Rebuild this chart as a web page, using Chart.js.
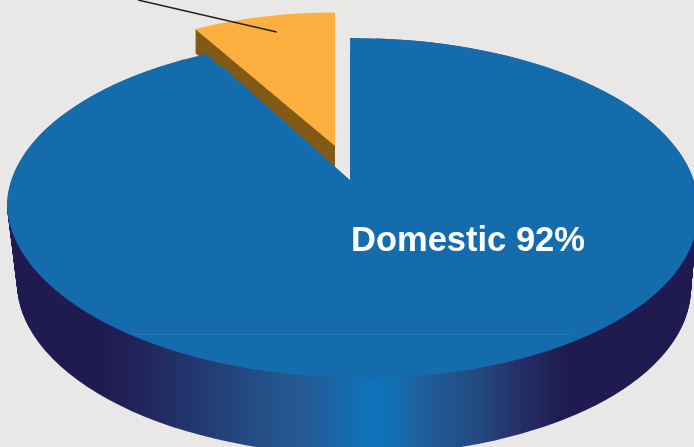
<!DOCTYPE html>
<html>
<head>
<meta charset="utf-8">
<style>
html,body{margin:0;padding:0;background:#e9e8e6;width:694px;height:447px;overflow:hidden}
canvas{display:block}
</style>
<script src="https://cdn.jsdelivr.net/npm/chart.js@4"></script>
</head>
<body>
<canvas id="c" width="694" height="447"></canvas>
<script>
const categories = ['Domestic', 'Other'];
const shares = [92, 8];
const sliceColors = ['#156cad', '#fdb03f'];
const sideColor = '#805a16';

// view of the slices: centre, radii and shear of the projected disc
const TOP = {cx: 352.5, cy: 207, rx: 345.5, ry: 171};
const TOP_BACK = {cx: 352.5, cy: 207, rx: 345.5, ry: 169};
const BOTTOM = {cx: 354, cy: 285, rx: 337, ry: 170};
const DEG = Math.PI / 180;

function project(ctx, el, v, k, rot) {
  const R = el.outerRadius;
  ctx.translate(v.cx, v.cy);
  ctx.transform(1, 0, k || 0, 1, 0, 0);
  ctx.scale(v.rx / R, v.ry / R);
  ctx.rotate(rot || 0);
  ctx.translate(-el.x, -el.y);
}
function drawEl(ctx, el, v, k, rot, color) {
  ctx.save();
  project(ctx, el, v, k, rot);
  const o = el.options;
  if (color) el.options = Object.assign({}, o, {backgroundColor: color});
  el.draw(ctx);
  el.options = o;
  ctx.restore();
}
const pie3d = {
  id: 'pie3d',
  beforeDatasetsDraw(chart) {
    const ctx = chart.ctx, W = chart.width, H = chart.height;
    const [blue, orange] = chart.getDatasetMeta(0).data;

    // blue side wall: stacked copies of the slice, then tinted left to right
    ctx.save();
    ctx.beginPath(); ctx.rect(0, 205, W, H - 205); ctx.clip();
    const steps = BOTTOM.cy - TOP.cy;
    for (let i = steps; i >= 0; i--) {
      const t = i / steps;
      const v = {
        cx: TOP.cx + (BOTTOM.cx - TOP.cx) * t,
        cy: TOP.cy + (BOTTOM.cy - TOP.cy) * t,
        rx: TOP.rx + (BOTTOM.rx - TOP.rx) * t,
        ry: TOP.ry + (BOTTOM.ry - TOP.ry) * t
      };
      drawEl(ctx, blue, v, 0.06 - 0.03 * t, 0, '#1f1a50');
    }
    const g = ctx.createLinearGradient(0, 0, W, 0);
    [[95,'#1f1a50'],[135,'#21225a'],[240,'#24487f'],[300,'#265a92'],[342,'#1767aa'],
     [367,'#0f72b9'],[392,'#1170b5'],[420,'#1f5f9c'],[480,'#23497f'],[515,'#25326a'],[565,'#1f1a50']]
      .forEach(s => g.addColorStop(s[0] / W, s[1]));
    ctx.globalCompositeOperation = 'source-atop';
    ctx.fillStyle = g;
    ctx.fillRect(0, 0, W, H);
    ctx.restore();

    // exploded small slice: side first
    const small = {cx: 335, cy: 146, rx: 290.5, ry: 133.5};
    for (let d = 24; d > 0; d--) {
      drawEl(ctx, orange, {cx: small.cx, cy: small.cy + d, rx: small.rx, ry: small.ry}, 0, 0, sideColor);
    }
    drawEl(ctx, orange, small, 0, 0);

    // large slice top face
    ctx.save();
    ctx.beginPath(); ctx.rect(0, 0, W, 207); ctx.clip();
    const a1 = Math.asin((350 - TOP_BACK.cx) / TOP_BACK.rx);
    const a2 = Math.asin((207 - TOP_BACK.cx) / TOP_BACK.rx) + (shares[1] / 100) * 360 * DEG;
    drawEl(ctx, blue, TOP_BACK, 0, a1);
    drawEl(ctx, blue, TOP_BACK, 0, a2);
    ctx.restore();
    ctx.save();
    ctx.beginPath(); ctx.rect(0, 207, W, H - 207); ctx.clip();
    drawEl(ctx, blue, TOP, 0.06, 0);
    ctx.restore();
    // apex of the large slice sits above the disc centre
    drawEl(ctx, blue, {cx: 350, cy: 180, rx: 266, ry: 130}, 0, 0);

    // faint seam on the face
    ctx.fillStyle = 'rgba(255,255,255,0.07)';
    ctx.fillRect(133, 334, 439, 1);

    // leader line
    ctx.strokeStyle = '#222222';
    ctx.lineWidth = 1.5;
    ctx.beginPath(); ctx.moveTo(138, 0); ctx.lineTo(276.7, 32); ctx.stroke();

    // label
    ctx.fillStyle = '#ffffff';
    ctx.font = 'bold 34.5px "Liberation Sans", Arial, sans-serif';
    ctx.textBaseline = 'alphabetic';
    ctx.textAlign = 'left';
    ctx.fillText(categories[0] + ' ' + shares[0] + '%', 351, 251);
    return false;
  }
};
new Chart(document.getElementById('c'), {
  type: 'pie',
  data: {labels: categories, datasets: [{data: shares, backgroundColor: sliceColors, borderWidth: 0}]},
  options: {
    responsive: false,
    animation: false,
    events: [],
    layout: {padding: 0},
    plugins: {legend: {display: false}, tooltip: {enabled: false}}
  },
  plugins: [pie3d]
});
</script>
</body>
</html>
